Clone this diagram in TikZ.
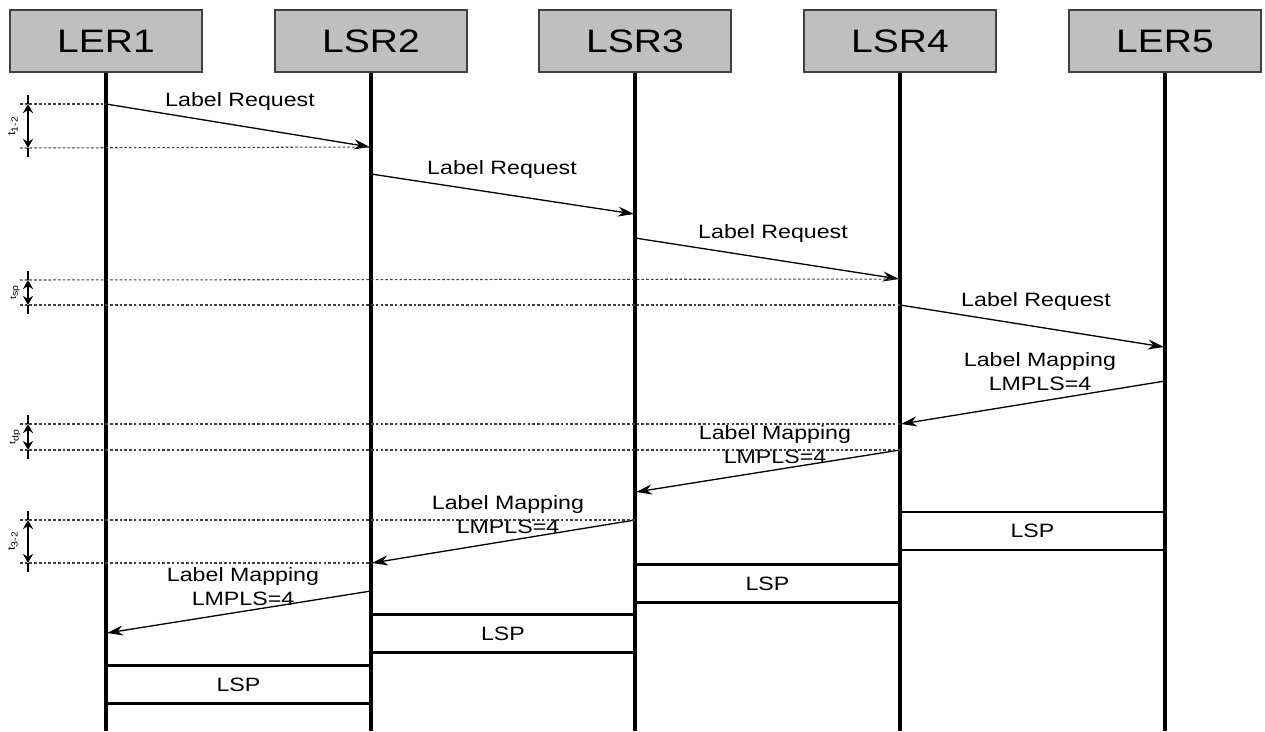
\documentclass[tikz,border=0pt]{standalone}
\usepackage{fontspec}
\setmainfont{Liberation Sans}[FakeStretch=1.2]
\usetikzlibrary{arrows.meta}
\begin{document}
\begin{tikzpicture}[x=0.02cm,y=-0.02cm,
 hdr/.style={draw=black!75, line width=1.2pt, fill=black!25, minimum width=3.84cm, minimum height=1.24cm, inner sep=0pt, font=\fontsize{18.5}{20}\selectfont},
 life/.style={line width=2pt},
 msg/.style={line width=0.75pt, -{Stealth[length=0.32cm,width=0.2cm]}},
 lbl/.style={font=\fontsize{11}{13.7}\selectfont, inner sep=0pt, align=center},
 guide/.style={line width=0.6pt, black!75, dash pattern=on 1.5pt off 1.2pt},
 lsp/.style={draw, line width=1.3pt, minimum height=0.76cm, inner sep=0pt, font=\fontsize{11}{13}\selectfont},
 tlbl/.style={rotate=90, font=\fontsize{6}{7}\selectfont, inner sep=0pt},
 dim/.style={line width=1.4pt, {Stealth[length=0.18cm,width=0.2cm]}-{Stealth[length=0.18cm,width=0.2cm]}},
 stub/.style={line width=1.4pt}]
\useasboundingbox (0,0) rectangle (1265,731);

% headers
\node[hdr] (h1) at (106,41) {LER1};
\node[hdr] (h2) at (371,41) {LSR2};
\node[hdr] (h3) at (635,41) {LSR3};
\node[hdr] (h4) at (900,41) {LSR4};
\node[hdr] (h5) at (1165,41) {LER5};

% LSP boxes
\node[lsp, minimum width=5.30cm] (lsp4) at (1032.5,531) {LSP};
\node[lsp, minimum width=5.30cm] (lsp3) at (767.5,583.5) {LSP};
\node[lsp, minimum width=5.28cm] (lsp2) at (503,633.5) {LSP};
\node[lsp, minimum width=5.30cm] (lsp1) at (238.5,684.5) {LSP};

% lifelines
\coordinate (e1) at (106,731);
\coordinate (e2) at (371,731);
\coordinate (e3) at (635,731);
\coordinate (e4) at (900,731);
\coordinate (e5) at (1165,731);
\draw[life] (h1.south) -- (e1);
\draw[life] (h2.south) -- (e2);
\draw[life] (h3.south) -- (e3);
\draw[life] (h4.south) -- (e4);
\draw[life] (h5.south) -- (e5);

% message end points
\coordinate (r1a) at (106,104);  \coordinate (r1b) at (370,147);
\coordinate (r2a) at (371,174);  \coordinate (r2b) at (634,214);
\coordinate (r3a) at (635,238);  \coordinate (r3b) at (899,279);
\coordinate (r4a) at (900,305);  \coordinate (r4b) at (1164,347);
\coordinate (p1a) at (1165,381); \coordinate (p1b) at (901,424);
\coordinate (p2a) at (900,450);  \coordinate (p2b) at (636,492);
\coordinate (p3a) at (635,520);  \coordinate (p3b) at (372,563);
\coordinate (p4a) at (371,591);  \coordinate (p4b) at (107,633);

\draw[msg] (r1a) -- (r1b);
\draw[msg] (r2a) -- (r2b);
\draw[msg] (r3a) -- (r3b);
\draw[msg] (r4a) -- (r4b);
\draw[msg] (p1a) -- (p1b);
\draw[msg] (p2a) -- (p2b);
\draw[msg] (p3a) -- (p3b);
\draw[msg] (p4a) -- (p4b);

% message labels
\node[lbl] (l1) at (240,101) {Label Request};
\node[lbl] (l2) at (502,169) {Label Request};
\node[lbl] (l3) at (773,233) {Label Request};
\node[lbl] (l4) at (1036,301) {Label Request};
\node[lbl] (l5) at (1040,372) {Label Mapping\\LMPLS=4};
\node[lbl] (l6) at (775,445) {Label Mapping\\LMPLS=4};
\node[lbl] (l7) at (508,515) {Label Mapping\\LMPLS=4};
\node[lbl] (l8) at (243,587) {Label Mapping\\LMPLS=4};

% timing guides
\coordinate (g1a) at (20,104); \coordinate (g1b) at (20,148);
\coordinate (g2a) at (20,280); \coordinate (g2b) at (20,305);
\coordinate (g3a) at (20,424); \coordinate (g3b) at (20,450);
\coordinate (g4a) at (20,520); \coordinate (g4b) at (20,563);
\draw[guide] (g1a) -- (r1a);
\draw[guide] (g1b) -- (r1b);
\draw[guide] (g2a) -- (r3b);
\draw[guide] (g2b) -- (r4a);
\draw[guide] (g3a) -- (p1b);
\draw[guide] (g3b) -- (p2a);
\draw[guide] (g4a) -- (p3a);
\draw[guide] (g4b) -- (p3b);

% dimension markers
\coordinate (d1a) at (28,104); \coordinate (d1b) at (28,148);
\coordinate (d2a) at (28,280); \coordinate (d2b) at (28,305);
\coordinate (d3a) at (28,424); \coordinate (d3b) at (28,450);
\coordinate (d4a) at (28,520); \coordinate (d4b) at (28,563);
\coordinate (s1a) at (28,95); \coordinate (s1b) at (28,157);
\coordinate (s2a) at (28,271); \coordinate (s2b) at (28,314);
\coordinate (s3a) at (28,415); \coordinate (s3b) at (28,459);
\coordinate (s4a) at (28,511); \coordinate (s4b) at (28,572);
\draw[dim] (d1a) -- (d1b);
\draw[dim] (d2a) -- (d2b);
\draw[dim] (d3a) -- (d3b);
\draw[dim] (d4a) -- (d4b);
\draw[stub] (s1a) -- (d1a); \draw[stub] (d1b) -- (s1b);
\draw[stub] (s2a) -- (d2a); \draw[stub] (d2b) -- (s2b);
\draw[stub] (s3a) -- (d3a); \draw[stub] (d3b) -- (s3b);
\draw[stub] (s4a) -- (d4a); \draw[stub] (d4b) -- (s4b);

\node[tlbl] (t1) at (13,126) {t\textsubscript{1-2}};
\node[tlbl, font=\fontsize{5}{6}\selectfont] (t2) at (15,292) {t\textsubscript{sp}};
\node[tlbl, font=\fontsize{5}{6}\selectfont] (t3) at (15,437) {t\textsubscript{dp}};
\node[tlbl] (t4) at (13,541) {t\textsubscript{3-2}};
\end{tikzpicture}
\end{document}
